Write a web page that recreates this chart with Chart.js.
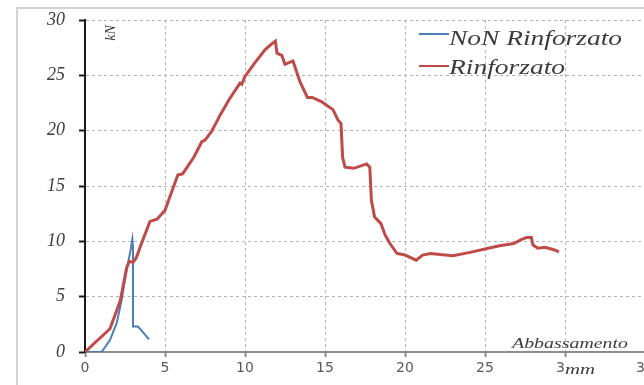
<!DOCTYPE html>
<html>
<head>
<meta charset="utf-8">
<script src="https://cdn.jsdelivr.net/npm/chart.js@4/dist/chart.umd.min.js"></script>
<style>
  html, body { margin: 0; padding: 0; background: #ffffff; overflow: hidden; }
  #wrap { position: relative; width: 644px; height: 385px; overflow: hidden; }
  canvas { position: absolute; left: 0; top: 0; }
</style>
</head>
<body>
<div id="wrap"><canvas id="c" width="680" height="385"></canvas></div>
<script>
// Load–deflection curves (Abbassamento in mm, load in kN)
const seriesNames = ['NoN Rinforzato', 'Rinforzato'];

const nonRinfX = [0, 1.04, 1.56, 1.98, 2.29, 2.6, 2.85, 2.96, 3.0, 3.0, 3.3, 3.5, 4.0];
const nonRinfY = [0, 0, 1.08, 2.6, 4.7, 7.4, 9.2, 10.2, 9.5, 2.3, 2.3, 2.0, 1.15];

const rinfX = [0, 1.56, 2.2, 2.6, 2.77, 3.0, 3.2, 3.5, 4.06, 4.5, 5.0, 5.3, 5.8, 6.1, 6.8, 7.3, 7.5, 7.9,
  8.3, 8.44, 9.0, 9.69, 9.8, 10.0, 10.6, 11.25, 11.56, 11.9, 12.0, 12.3, 12.5, 13.0, 13.44, 13.9, 14.2,
  14.8, 15.5, 15.8, 16.0, 16.1, 16.25, 16.8, 17.6, 17.8, 17.9, 18.1, 18.5, 18.75, 19.06, 19.5, 20.0,
  20.7, 21.1, 21.6, 22.2, 23.0, 24.06, 25.0, 25.9, 26.8, 27.2, 27.6, 27.9, 28.0, 28.3, 28.75, 29.2, 29.5, 29.6];
const rinfY = [0, 2.1, 4.6, 7.6, 8.2, 8.1, 8.5, 9.7, 11.8, 12.0, 12.8, 14.0, 16.0, 16.1, 17.6, 19.0, 19.15, 19.9,
  21.0, 21.4, 22.8, 24.3, 24.2, 24.9, 26.1, 27.3, 27.7, 28.1, 27.0, 26.8, 26.0, 26.3, 24.4, 23.0, 23.0,
  22.6, 21.9, 21.0, 20.65, 17.6, 16.7, 16.6, 17.0, 16.7, 13.7, 12.2, 11.6, 10.6, 9.8, 8.9, 8.76,
  8.3, 8.76, 8.9, 8.8, 8.7, 9.0, 9.3, 9.6, 9.8, 10.1, 10.35, 10.35, 9.67, 9.37, 9.46, 9.28, 9.15, 9.0];

const xTicks = [0, 5, 10, 15, 20, 25, 30, 35];
const yTicks = [0, 5, 10, 15, 20, 25, 30];

const seriesColors = ['#4a7ebb', '#be4b48'];

const toPoints = (xs, ys) => xs.map((x, i) => ({ x: x, y: ys[i] }));

// draws a string stretched horizontally to a given width
function stretchedText(ctx, text, x, y, font, width, align) {
  ctx.save();
  ctx.font = font;
  const w = ctx.measureText(text).width;
  const sx = width / w;
  ctx.translate(x, y);
  ctx.scale(sx, 1);
  ctx.textAlign = align || 'left';
  ctx.textBaseline = 'alphabetic';
  ctx.fillText(text, 0, 0);
  ctx.restore();
}

const decorations = {
  id: 'decorations',
  beforeDraw(chart) {
    const ctx = chart.ctx;
    ctx.save();
    ctx.fillStyle = '#ffffff';
    ctx.fillRect(0, 0, chart.width, chart.height);
    // outer frame
    ctx.strokeStyle = '#d4d4d4';
    ctx.lineWidth = 2;
    ctx.beginPath();
    ctx.moveTo(17, 390);
    ctx.lineTo(17, 8);
    ctx.lineTo(chart.width + 5, 8);
    ctx.stroke();
    ctx.restore();
  },
  afterDraw(chart) {
    const ctx = chart.ctx;
    ctx.save();
    const serif = '"Liberation Serif", "Times New Roman", serif';
    ctx.fillStyle = '#3c3c3c';

    // legend
    ctx.lineWidth = 2;
    ctx.strokeStyle = seriesColors[0];
    ctx.beginPath(); ctx.moveTo(419, 34); ctx.lineTo(449, 34); ctx.stroke();
    ctx.strokeStyle = seriesColors[1];
    ctx.beginPath(); ctx.moveTo(419, 66); ctx.lineTo(449, 66); ctx.stroke();
    stretchedText(ctx, seriesNames[0], 449, 45, 'italic 22px ' + serif, 173);
    stretchedText(ctx, seriesNames[1], 449, 74, 'italic 22px ' + serif, 116);

    // y axis unit
    ctx.save();
    ctx.translate(115, 33);
    ctx.rotate(-Math.PI / 2);
    ctx.font = 'italic 14px ' + serif;
    ctx.textAlign = 'center';
    ctx.textBaseline = 'alphabetic';
    ctx.fillText('kN', 0, 0);
    ctx.restore();

    // x axis title and unit
    stretchedText(ctx, 'Abbassamento', 512, 348, 'italic 14px ' + serif, 116);
    ctx.fillStyle = '#ffffff';
    ctx.fillRect(564, 360, 34, 16);
    ctx.fillStyle = '#3c3c3c';
    stretchedText(ctx, 'mm', 565, 374, 'italic 14px ' + serif, 30);
    ctx.restore();
  }
};

new Chart(document.getElementById('c'), {
  type: 'scatter',
  data: {
    datasets: [
      {
        label: seriesNames[0],
        data: toPoints(nonRinfX, nonRinfY),
        showLine: true,
        borderColor: seriesColors[0],
        backgroundColor: seriesColors[0],
        borderWidth: 2,
        pointRadius: 0,
        tension: 0,
        order: 2
      },
      {
        label: seriesNames[1],
        data: toPoints(rinfX, rinfY),
        showLine: true,
        borderColor: seriesColors[1],
        backgroundColor: seriesColors[1],
        borderWidth: 3,
        pointRadius: 0,
        tension: 0,
        order: 1
      }
    ]
  },
  options: {
    responsive: false,
    animation: false,
    layout: { padding: { left: 0, top: 20, right: 35, bottom: 0 } },
    plugins: {
      legend: { display: false },
      tooltip: { enabled: false }
    },
    scales: {
      x: {
        type: 'linear',
        min: 0,
        max: 35,
        afterBuildTicks(scale) { scale.ticks = xTicks.map(v => ({ value: v })); },
        afterFit(scale) { scale.height = 33; scale.paddingLeft = 0; scale.paddingRight = 0; },
        grid: {
          color: '#b4b4b4',
          lineWidth: 1,
          drawTicks: true,
          tickLength: 5,
          tickColor: '#8c8c8c',
          tickWidth: 2
        },
        border: { display: true, color: '#8c8c8c', width: 2, dash: [3, 3] },
        ticks: {
          padding: 3,
          color: '#5a5a5a',
          font: { family: '"DejaVu Sans", Verdana, sans-serif', size: 14 },
          maxRotation: 0,
          autoSkip: false
        }
      },
      y: {
        type: 'linear',
        min: 0,
        max: 30,
        afterBuildTicks(scale) { scale.ticks = yTicks.map(v => ({ value: v })); },
        afterFit(scale) { scale.width = 85; scale.paddingTop = 0; scale.paddingBottom = 0; },
        grid: {
          color: '#b4b4b4',
          lineWidth: 1,
          drawTicks: true,
          tickLength: 6,
          tickColor: '#1a1a1a',
          tickWidth: 2
        },
        border: { display: true, color: '#1a1a1a', width: 2, dash: [3, 3] },
        ticks: {
          padding: 14,
          color: '#3c3c3c',
          font: { family: '"Liberation Serif", "Times New Roman", serif', size: 18, style: 'italic' },
          autoSkip: false
        }
      }
    }
  },
  plugins: [decorations]
});
</script>
</body>
</html>
